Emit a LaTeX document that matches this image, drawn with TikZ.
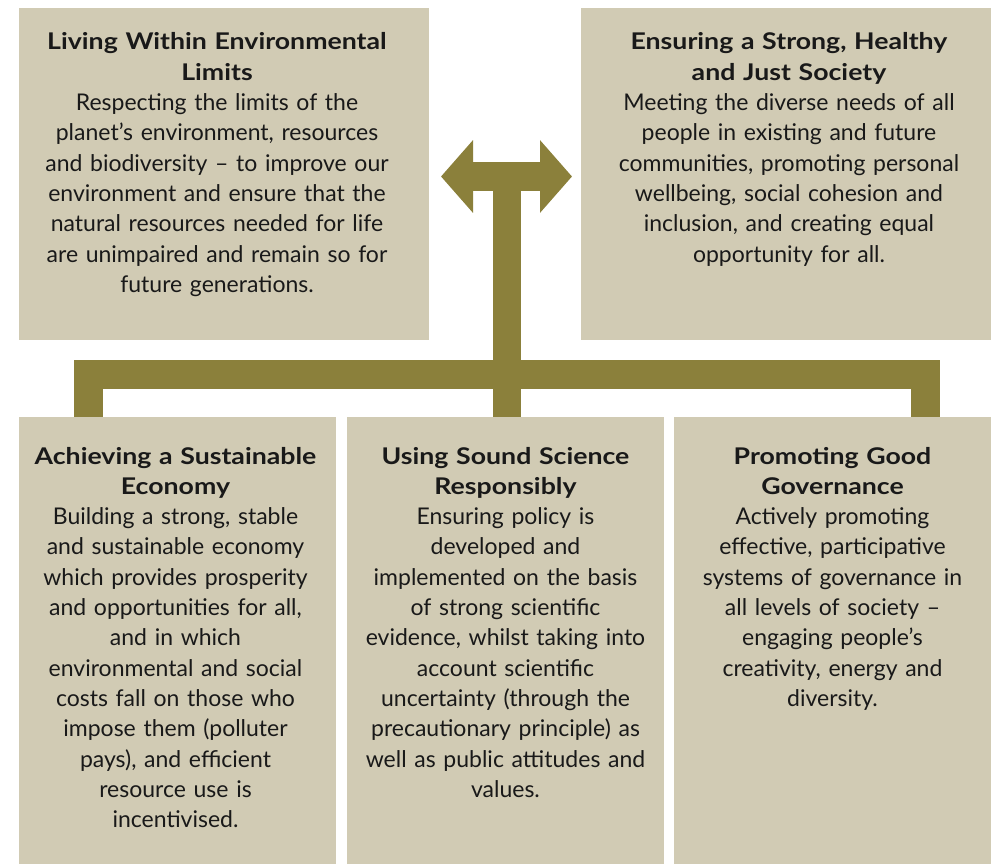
\documentclass[tikz,border=0pt]{standalone}
\usepackage{fontspec}
\setmainfont{Lato}
\newfontfamily\headfont[FakeStretch=1.16]{Lato}
\usepackage{xcolor}
\usepackage{tikz}
\usetikzlibrary{arrows.meta, calc}
\definecolor{sand}{RGB}{209,203,180}
\definecolor{moss}{RGB}{139,128,59}
\newcommand{\heading}[1]{{\headfont\bfseries #1}}
\tikzset{
    panel/.style={fill=sand, draw=none, inner sep=0pt, outer sep=0pt},
    blurb/.style={text width=420pt, align=center, anchor=base, inner sep=0pt, text=black!90, font=\fontsize{23}{30.3}\selectfont},
    trunk/.style={draw=moss, line width=28.6pt, line join=miter},
    twohead/.style={{Triangle[length=32pt, width=71pt]}-{Triangle[length=32pt, width=71pt]}}
}

\begin{document}
\begin{tikzpicture}[x=1pt, y=-1pt]
    \useasboundingbox (0,0) rectangle (991,864);
    \node[panel, minimum width=410pt, minimum height=332pt] (envbox) at (224,174) {};
    \node[panel, minimum width=410pt, minimum height=332pt] (societybox) at (786,174) {};
    \node[panel, minimum width=317pt, minimum height=447pt] (economybox) at (177.5,640.5) {};
    \node[panel, minimum width=317pt, minimum height=447pt] (sciencebox) at (505.5,640.5) {};
    \node[panel, minimum width=317pt, minimum height=447pt] (governancebox) at (832.5,640.5) {};

    \node[blurb] (envtext) at ($(envbox.north)+(-7,42)$) {\heading{Living Within Environmental}\\\heading{Limits}\\
        Respecting the limits of the\\planet’s environment, resources\\and biodiversity – to improve our\\environment and ensure that the\\natural resources needed for life\\are unimpaired and remain so for\\future generations.};
    \node[blurb] (societytext) at ($(societybox.north)+(3,42)$) {\heading{Ensuring a Strong, Healthy}\\\heading{and Just Society}\\
        Meeting the diverse needs of all\\people in existing and future\\communities, promoting personal\\wellbeing, social cohesion and\\inclusion, and creating equal\\opportunity for all.};
    \node[blurb] (economytext) at ($(economybox.north)+(-2,47)$) {\heading{Achieving a Sustainable}\\\heading{Economy}\\
        Building a strong, stable\\and sustainable economy\\which provides prosperity\\and opportunities for all,\\and in which\\environmental and social\\costs fall on those who\\impose them (polluter\\pays), and efficient\\resource use is\\incentivised.};
    \node[blurb] (sciencetext) at ($(sciencebox.north)+(0,47)$) {\heading{Using Sound Science}\\\heading{Responsibly}\\
        Ensuring policy is\\developed and\\implemented on the basis\\of strong scientific\\evidence, whilst taking into\\account scientific\\uncertainty (through the\\precautionary principle) as\\well as public attitudes and\\values.};
    \node[blurb] (governancetext) at ($(governancebox.north)+(0,47)$) {\heading{Promoting Good}\\\heading{Governance}\\
        Actively promoting\\effective, participative\\systems of governance in\\all levels of society –\\engaging people’s\\creativity, energy and\\diversity.};

    \coordinate (westtip) at (441,176.5);
    \coordinate (easttip) at (572,176.5);
    \coordinate (hub) at (507,176.5);
    \coordinate (westbend) at (88.5,374.5);
    \coordinate (eastbend) at (925.5,374.5);
    \draw[trunk] (hub) -- (sciencebox.north -| hub);
    \draw[trunk, twohead] (westtip) -- (easttip);
    \draw[trunk] (economybox.north -| westbend) -- (westbend) -- (eastbend) -- (governancebox.north -| eastbend);
\end{tikzpicture}
\end{document}
